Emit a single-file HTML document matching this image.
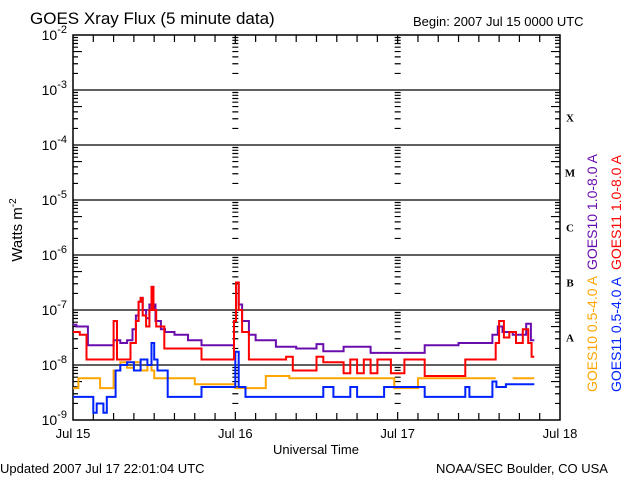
<!DOCTYPE html>
<html><head><meta charset="utf-8"><style>
body{margin:0;background:#fff;}
svg{display:block;font-family:"Liberation Sans",sans-serif;}
</style></head><body>
<svg id="chart" width="640" height="480">
<text x="30" y="24" font-size="17">GOES Xray Flux (5 minute data)</text>
<text x="413" y="26" font-size="13">Begin:  2007 Jul 15 0000 UTC</text>
<text x="0" y="473" font-size="13">Updated 2007 Jul 17 22:01:04 UTC</text>
<text x="436" y="473" font-size="13">NOAA/SEC Boulder, CO USA</text>
<text x="316" y="454" font-size="13" text-anchor="middle">Universal Time</text>
<text transform="translate(22,230) rotate(-90)" font-size="15" text-anchor="middle">Watts m<tspan dy="-6" font-size="10">-2</tspan></text>
<text transform="translate(597,270) rotate(-90)" font-size="14" fill="#6a0dad">GOES10 1.0-8.0 A</text>
<text transform="translate(621,270) rotate(-90)" font-size="14" fill="#ff0000">GOES11 1.0-8.0 A</text>
<text transform="translate(597,392) rotate(-90)" font-size="14" fill="#ffa500">GOES10 0.5-4.0 A</text>
<text transform="translate(621,392) rotate(-90)" font-size="14" fill="#0022ff">GOES11 0.5-4.0 A</text>
<g id="axes"></g>
<g id="series"></g>
</svg>
<script>
const dayLabels=["Jul 15","Jul 16","Jul 17","Jul 18"];
const decadeExps=[-2,-3,-4,-5,-6,-7,-8,-9];
const classLabels=["X","M","C","B","A"];
const g10LongH=[0,0.5,2.2,6,7,8,8.8,9.3,9.7,10,10.3,10.8,11.3,11.6,11.9,12.2,13,13.6,15,17,19,23.8,24.1,24.5,25,26,27,30,33,36,37,40,44,48,52,57,62,62.8,63.5,65,67,67.7,68.2];
const g10LongE=[-7.27,-7.3,-7.64,-7.55,-7.6,-7.55,-7.35,-7.1,-6.85,-6.78,-7.0,-7.15,-6.9,-6.58,-6.9,-7.2,-7.35,-7.4,-7.45,-7.55,-7.64,-7.2,-6.5,-6.9,-7.2,-7.45,-7.55,-7.67,-7.7,-7.62,-7.75,-7.67,-7.78,-7.78,-7.64,-7.6,-7.45,-7.3,-7.4,-7.45,-7.25,-7.55,-7.55];
const g11LongH=[0,1,2,6,6.5,8.5,9.3,9.7,10,10.3,10.8,11.3,11.6,11.9,12.3,13.5,19,23.8,24.1,24.5,25,26,31.5,32.5,36,37,40,41,42,43,44,45,47,49,52,58,62.5,63,63.7,64.5,65.5,66.5,67.3,67.8,68.2];
const g11LongE=[-7.4,-7.45,-7.9,-7.2,-7.9,-7.6,-7.2,-6.85,-6.78,-7.1,-7.3,-7.0,-6.58,-7.0,-7.3,-7.7,-7.9,-7.2,-6.5,-7.0,-7.4,-7.9,-7.85,-8.1,-7.85,-7.95,-8.15,-7.9,-8.15,-7.9,-8.15,-7.9,-8.15,-7.9,-8.2,-7.9,-7.6,-7.2,-7.5,-7.4,-7.6,-7.35,-7.6,-7.85,-7.85];
const g10ShortH=[0,0.8,4,6,7,8,9,10,11,11.6,12,18,24,28.5,32,47.5,51,62.5,65,68.2];
const g10ShortE=[-8.42,-8.24,-8.42,-8.1,-7.95,-8.05,-7.95,-8.1,-8.0,-8.1,-8.24,-8.35,-8.42,-8.2,-8.24,-8.42,-8.24,null,-8.24,-8.24];
const g11ShortH=[0,3,3.5,4.5,5,6.3,7,8,9,10,11,11.6,12,12.5,14,19,24,24.5,25.5,37,38.5,41,42,46,52,58,58.6,62,62.6,64,68.2];
const g11ShortE=[-8.58,-8.87,-8.7,-8.87,-8.58,-8.1,-8.0,-7.95,-8.1,-7.9,-8.0,-7.6,-7.9,-8.1,-8.58,-8.4,-7.76,-8.4,-8.58,-8.4,-8.58,-8.4,-8.58,-8.4,-8.58,-8.4,-8.58,-8.3,-8.4,-8.35,-8.35];

const NS="http://www.w3.org/2000/svg";
const X0=73,X1=560,Y0=35,Y1=420;
const xs=h=>X0+h*(X1-X0)/72;
const ys=e=>Y0+(-2-e)*(Y1-Y0)/7;
function mk(tag,attrs,parent){const el=document.createElementNS(NS,tag);for(const k in attrs)el.setAttribute(k,attrs[k]);parent.appendChild(el);return el;}
const axes=document.getElementById('axes'),ser=document.getElementById('series');
let r=mk('rect',{x:X0,y:Y0,width:X1-X0,height:Y1-Y0,fill:'none',stroke:'#000','stroke-width':1.5},axes);


let td="";
decadeExps.forEach((e,i)=>{
  const y=ys(e);
  if(e<-2&&e>-9){td+=`M${X0},${y}H${X1}`;}
  const t=mk('text',{x:X0-6,y:y+5,'font-size':14,'text-anchor':'end'},axes);
  
  
  t.innerHTML=`10<tspan dy="-7" font-size="11">${e}</tspan>`;
  if(e>-9){for(let m=2;m<=9;m++){const yy=ys(e-1+Math.log10(m));const L=m==5?9:5;
    td+=`M${X0},${yy}h${L}M${X1},${yy}h-${L}`;
    for(let d=1;d<=2;d++){const xd=xs(d*24);td+=`M${xd-3},${yy}h6`;}}}
});
for(let h=3;h<72;h+=3){const L=h%24==0?0:7;if(L){td+=`M${xs(h)},${Y0}v${L}M${xs(h)},${Y1}v-${L}`;}}
for(let d=1;d<=2;d++){const xd=xs(d*24);td+=`M${xd},${Y0}v8M${xd},${Y1}v-8`;}
let p=mk('path',{d:td,stroke:'#000','stroke-width':1.2,fill:'none'},axes);


dayLabels.forEach((l,i)=>{const t=mk('text',{x:xs(i*24),y:438,'font-size':13,'text-anchor':'middle'},axes);t.textContent=l;
  
  });
classLabels.forEach((c,i)=>{const t=mk('text',{x:570,y:ys(-3.5-i)+4,'font-size':11,'font-family':'Liberation Serif,serif','font-weight':'bold','text-anchor':'middle'},axes);t.textContent=c;
  
  });
function line(H,E,color,name){let d="",pen=false;
  for(let i=0;i<H.length;i++){
    if(E[i]===null){if(pen)d+="H"+xs(H[i]).toFixed(1);pen=false;continue;}
    const x=xs(H[i]).toFixed(1),y=ys(E[i]).toFixed(1);
    if(!pen){d+="M"+x+","+y;pen=true;}else{d+="H"+x+"V"+y;}}
  const el=mk('path',{d:d,stroke:color,'stroke-width':2,fill:'none'},ser);
  
  }
line(g10ShortH,g10ShortE,'#ffa500','series-goes10-short');
line(g11ShortH,g11ShortE,'#0022ff','series-goes11-short');
line(g10LongH,g10LongE,'#6a0dad','series-goes10-long');
line(g11LongH,g11LongE,'#ff0000','series-goes11-long');
</script>
</body></html>
